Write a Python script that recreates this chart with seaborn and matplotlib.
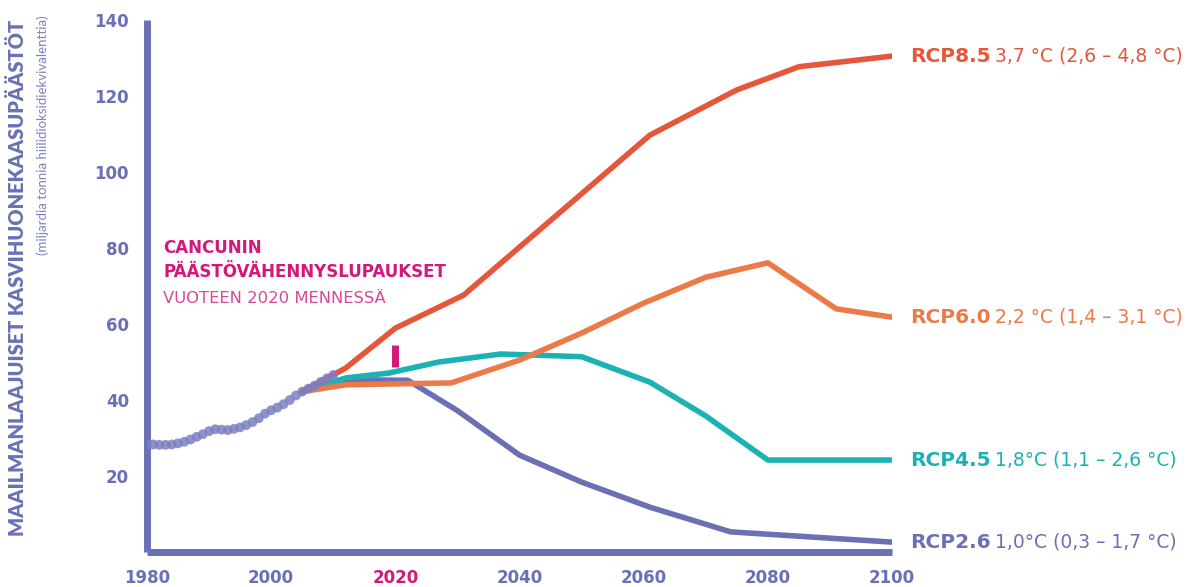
import numpy as np
import pandas as pd
import seaborn as sns
import matplotlib.pyplot as plt

# historical emissions (Gt CO2e), one dot per year
hist_years = list(range(1980, 2011))
hist_values = [28.3, 28.3, 28.2, 28.2, 28.3, 28.6, 29.0, 29.6, 30.3, 31.0,
               31.8, 32.3, 32.2, 32.1, 32.4, 32.8, 33.4, 34.2, 35.2, 36.4,
               37.3, 38.0, 38.9, 40.0, 41.2, 42.2, 43.0, 43.8, 44.8, 45.7, 46.6]

rcp26_years = [2005, 2012, 2022, 2030, 2040, 2050, 2061, 2074, 2100]
rcp26_values = [42.2, 45.3, 45.2, 37.2, 25.5, 18.4, 11.8, 5.3, 2.6]

rcp45_years = [2005, 2012, 2019, 2027, 2037, 2050, 2061, 2070, 2080, 2100]
rcp45_values = [42.2, 45.8, 47.1, 50.0, 52.1, 51.4, 44.7, 35.8, 24.2, 24.2]

rcp60_years = [2005, 2012, 2029, 2040, 2050, 2060, 2070, 2080, 2091, 2100]
rcp60_values = [42.2, 44.0, 44.5, 50.5, 57.6, 65.5, 72.3, 76.1, 64.0, 61.8]

rcp85_years = [2005, 2012, 2020, 2031, 2061, 2075, 2085, 2100]
rcp85_values = [42.2, 48.4, 58.9, 67.6, 109.7, 121.6, 127.7, 130.5]

scenario_names = ["RCP2.6", "RCP4.5", "RCP6.0", "RCP8.5"]
scenario_temps = ["1,0°C (0,3 – 1,7 °C)", "1,8°C (1,1 – 2,6 °C)",
                  "2,2 °C (1,4 – 3,1 °C)", "3,7 °C (2,6 – 4,8 °C)"]

pledge_year = 2020
pledge_low, pledge_high = 48.7, 54.5

x_ticks = [1980, 2000, 2020, 2040, 2060, 2080, 2100]
y_ticks = [20, 40, 60, 80, 100, 120, 140]

SLATE = "#6B70B5"
MAGENTA = "#D4177B"
palette = {"RCP2.6": SLATE, "RCP4.5": "#1CB2B4",
           "RCP6.0": "#EC7A48", "RCP8.5": "#E5563A"}

scen = pd.concat([
    pd.DataFrame({"scenario": name, "year": yrs, "value": vals})
    for name, yrs, vals in zip(
        scenario_names,
        [rcp26_years, rcp45_years, rcp60_years, rcp85_years],
        [rcp26_values, rcp45_values, rcp60_values, rcp85_values])
])
hist = pd.DataFrame({"year": hist_years, "value": hist_values})

sns.set_theme(style="white")
plt.rcParams["font.family"] = ["DejaVu Sans"]

fig = plt.figure(figsize=(11.99, 5.87), dpi=100)
ax = fig.add_axes([147 / 1199, 1 - 552 / 587, 745 / 1199, 532 / 587])

sns.lineplot(data=scen, x="year", y="value", hue="scenario",
             hue_order=scenario_names, palette=palette, linewidth=4,
             legend=False, ax=ax)
sns.scatterplot(data=hist, x="year", y="value", color="#7A80C2", s=50,
                edgecolor="none", alpha=0.85, ax=ax, zorder=5)

ax.plot([pledge_year, pledge_year], [pledge_low, pledge_high],
        color=MAGENTA, linewidth=5, solid_capstyle="butt")

ax.set_xlim(1980, 2100)
ax.set_ylim(0, 140)
ax.set_xticks(x_ticks)
ax.set_yticks(y_ticks)
ax.set_xlabel("")
ax.set_ylabel("")
ax.tick_params(length=0, labelsize=12, colors=SLATE)
ax.tick_params(axis="y", pad=13)
ax.tick_params(axis="x", pad=12)
for lab in ax.get_xticklabels() + ax.get_yticklabels():
    lab.set_fontweight("bold")
ax.get_xticklabels()[2].set_color(MAGENTA)

sns.despine(ax=ax)
for side in ["left", "bottom"]:
    ax.spines[side].set_linewidth(5)
    ax.spines[side].set_color(SLATE)
    ax.spines[side].set_capstyle("butt")

# end labels: bold scenario name + temperature range
for name, temp in zip(scenario_names, scenario_temps):
    sub = scen[scen["scenario"] == name]
    yv = sub["value"].iloc[-1]
    t1 = ax.annotate(name, xy=(2100, yv), xytext=(13, 0),
                     textcoords="offset points", va="center", ha="left",
                     fontsize=14.5, fontweight="bold", color=palette[name],
                     annotation_clip=False)
    ax.annotate(temp, xy=(1, 0.5), xycoords=t1, xytext=(3, 0),
                textcoords="offset points", va="center", ha="left",
                fontsize=13.5, color=palette[name])

# Cancun annotation
ax.text(1982.6, 80, "CANCUNIN", color=MAGENTA, fontsize=12,
        fontweight="bold", va="center")
ax.text(1982.6, 73.7, "PÄÄSTÖVÄHENNYSLUPAUKSET", color=MAGENTA,
        fontsize=12, fontweight="bold", va="center")
ax.text(1982.6, 66.8, "VUOTEEN 2020 MENNESSÄ", color="#D9479B",
        fontsize=11.8, va="center")

fig.text(18 / 1199, 1 - 278 / 587, "MAAILMANLAAJUISET KASVIHUONEKAASUPÄÄSTÖT",
         rotation=90, ha="center", va="center", fontsize=14.4,
         fontweight="heavy", color=SLATE, family=["Lato", "DejaVu Sans"])
fig.text(43 / 1199, 1 - 15 / 587, "(miljardia tonnia hiilidioksidiekvivalenttia)",
         rotation=90, ha="center", va="top", fontsize=9.5,
         color="#7D82BF", family=["Lato", "DejaVu Sans"])

fig.savefig("out.png", dpi=100)
